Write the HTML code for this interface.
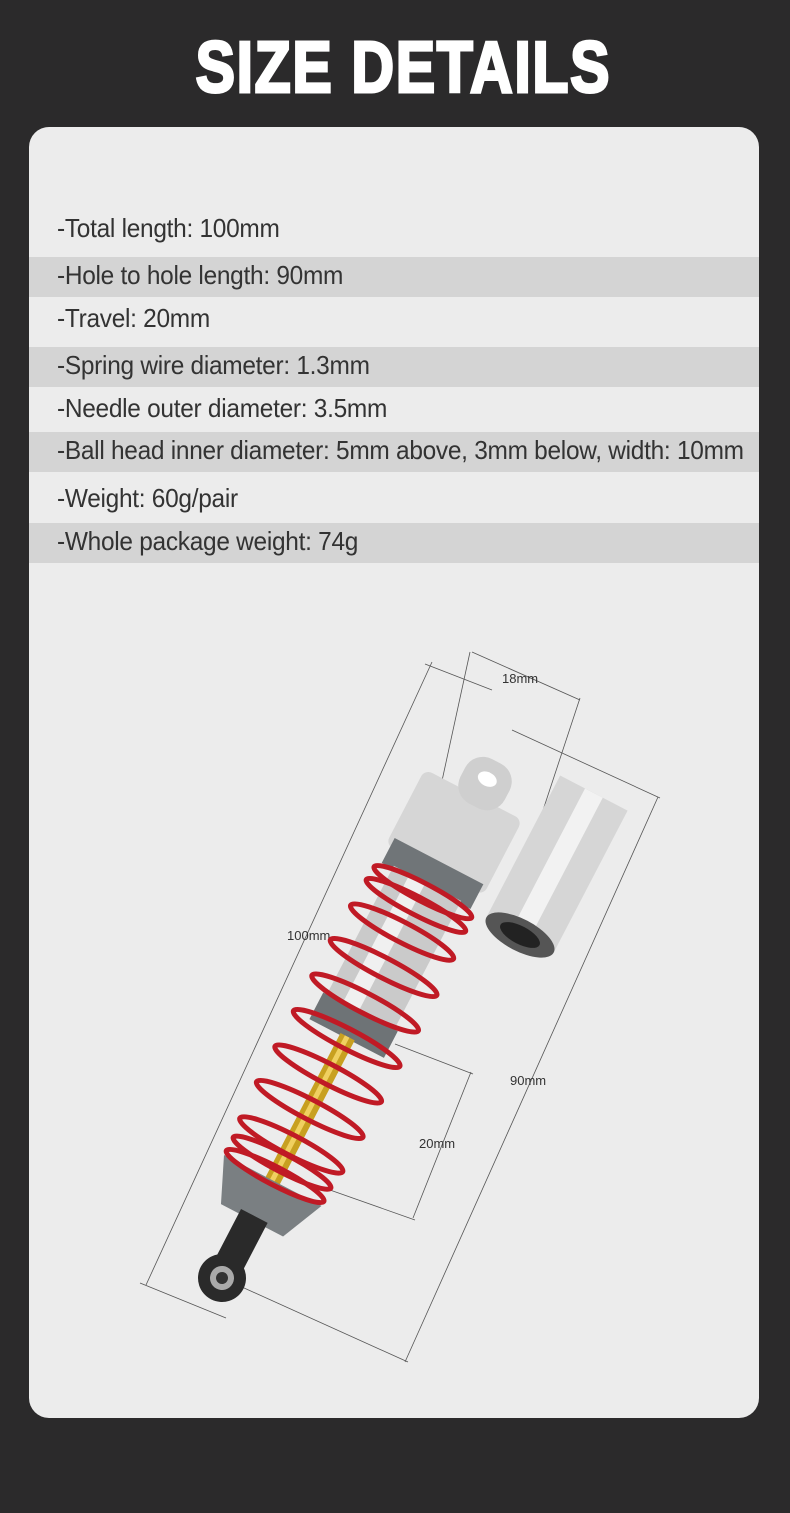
<!DOCTYPE html>
<html><head><meta charset="utf-8"><style>
html,body{margin:0;padding:0}
body{width:790px;height:1513px;background:#2b2a2b;position:relative;overflow:hidden;font-family:"Liberation Sans",sans-serif}
.title{position:absolute;left:8px;width:790px;top:30px;text-align:center}
.title span{display:inline-block;color:#fff;font-weight:900;font-size:72px;line-height:76px;transform:scaleX(0.82);-webkit-text-stroke:3px #fff;letter-spacing:2px}
.card{position:absolute;left:29px;top:127px;width:730px;height:1291px;background:#ececec;border-radius:20px;overflow:hidden}
.row{position:absolute;left:0;width:730px;height:40px}
.row.g{background:#d4d4d4}
.row span{position:absolute;left:28px;top:3px;font-size:26px;color:#333;white-space:nowrap;transform:scaleX(0.94);transform-origin:left center;letter-spacing:-0.3px}
svg{position:absolute;left:0;top:0}
</style></head><body>
<div class="title"><span>SIZE DETAILS</span></div>
<div class="card">
<div class="row" style="top:83px"><span>-Total length: 100mm</span></div>
<div class="row g" style="top:130px"><span>-Hole to hole length: 90mm</span></div>
<div class="row" style="top:173px"><span>-Travel: 20mm</span></div>
<div class="row g" style="top:220px"><span>-Spring wire diameter: 1.3mm</span></div>
<div class="row" style="top:263px"><span>-Needle outer diameter: 3.5mm</span></div>
<div class="row g" style="top:305px"><span>-Ball head inner diameter: 5mm above, 3mm below, width: 10mm</span></div>
<div class="row" style="top:353px"><span>-Weight: 60g/pair</span></div>
<div class="row g" style="top:396px"><span>-Whole package weight: 74g</span></div>
</div>
<svg width="790" height="1513" viewBox="0 0 790 1513">
<g stroke="#555" stroke-width="0.8" fill="none">
<line x1="432" y1="662" x2="146" y2="1285"/>
<line x1="425" y1="664" x2="492" y2="690"/>
<line x1="140" y1="1283" x2="226" y2="1318"/>
<line x1="472" y1="652" x2="580" y2="700"/>
<line x1="470" y1="652" x2="440" y2="790"/>
<line x1="580" y1="698" x2="520" y2="880"/>
<line x1="658" y1="797" x2="405" y2="1362"/>
<line x1="512" y1="730" x2="660" y2="798"/>
<line x1="222" y1="1278" x2="408" y2="1362"/>
<line x1="471" y1="1072" x2="413" y2="1218"/>
<line x1="395" y1="1044" x2="473" y2="1074"/>
<line x1="330" y1="1190" x2="415" y2="1220"/>
</g>
<g font-family="Liberation Sans,sans-serif" font-size="13" fill="#333">
<text x="502" y="683">18mm</text>
<text x="287" y="940">100mm</text>
<text x="510" y="1085">90mm</text>
<text x="419" y="1148">20mm</text>
</g>
<g transform="translate(520,935) rotate(27.5)">
<rect x="-38" y="-160" width="76" height="160" fill="#d6d6d6"/>
<rect x="-10" y="-160" width="20" height="160" fill="#f2f2f2"/>
<ellipse cx="0" cy="0" rx="38" ry="16" fill="#555"/>
<ellipse cx="0" cy="0" rx="22" ry="9" fill="#222"/>
</g>
<g transform="translate(222,1278) rotate(27.5)">
<rect x="-55" y="-545" width="110" height="85" rx="8" fill="#d6d6d6"/>
<rect x="-20" y="-585" width="50" height="50" rx="20" fill="#cfcfcf"/>
<ellipse cx="5" cy="-565" rx="10" ry="7" fill="#fff"/>
<rect x="-50" y="-470" width="100" height="28" fill="#707578"/>
<rect x="-38" y="-445" width="76" height="150" fill="#cacaca"/>
<rect x="-20" y="-445" width="18" height="150" fill="#f0f0f0"/>
<rect x="-42" y="-300" width="84" height="30" fill="#6e7376"/>
<rect x="-8" y="-272" width="16" height="170" fill="#c8a020"/>
<rect x="-3" y="-272" width="5" height="170" fill="#f0d060"/>
<path d="M-55,-110 L55,-110 L35,-65 L-35,-65 Z" fill="#7a7f82"/>
<rect x="-15" y="-70" width="30" height="60" fill="#2a2a2a"/>
<circle cx="0" cy="0" r="24" fill="#2a2a2a"/>
<circle cx="0" cy="0" r="12" fill="#aaa"/>
<circle cx="0" cy="0" r="6" fill="#333"/>
<g fill="none" stroke="#c01a25" stroke-width="5">
<ellipse cx="0" cy="-115" rx="55" ry="9"/>
<ellipse cx="0" cy="-130" rx="55" ry="9"/>
<ellipse cx="0" cy="-150" rx="58" ry="10"/>
<ellipse cx="0" cy="-190" rx="60" ry="10"/>
<ellipse cx="0" cy="-230" rx="60" ry="10"/>
<ellipse cx="0" cy="-270" rx="60" ry="10"/>
<ellipse cx="0" cy="-310" rx="60" ry="10"/>
<ellipse cx="0" cy="-350" rx="60" ry="10"/>
<ellipse cx="0" cy="-390" rx="58" ry="10"/>
<ellipse cx="0" cy="-420" rx="56" ry="9"/>
<ellipse cx="0" cy="-435" rx="55" ry="9"/>
</g>
</g>
</svg>
</body></html>
